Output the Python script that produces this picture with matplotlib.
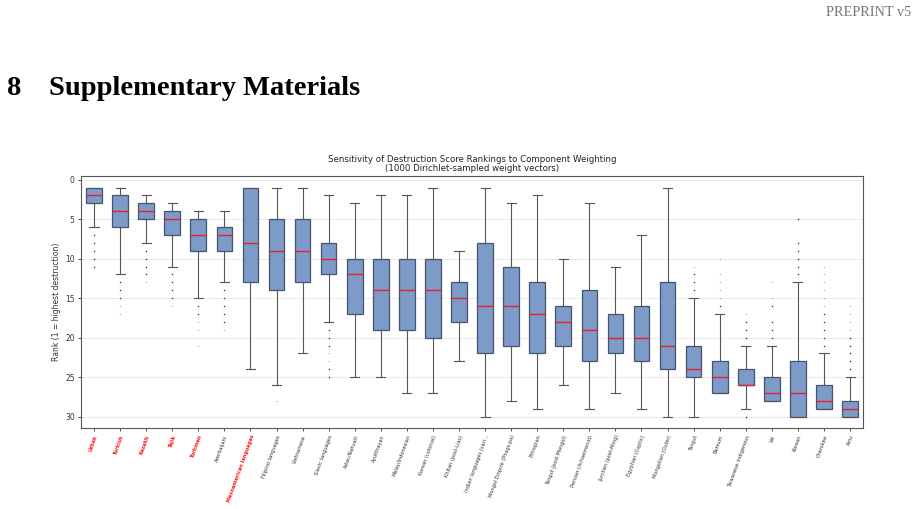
import matplotlib
matplotlib.use("Agg")
import matplotlib.pyplot as plt
import numpy as np

labels = ["Uzbek", "Turkish", "Kazakh", "Tajik", "Turkmen", "Azerbaijani",
          "Mesoamerican languages", "Filipino languages", "Vietnamese", "Slavic languages",
          "Aztec/Nahuatl", "Ayutthayan", "Malay/Indonesian", "Korean (colonial)",
          "Khitan (post-Liao)", "Indian languages (vari...", "Mongol Empire (Phags-pa)",
          "Ethiopian", "Tangut (post-Mongol)", "Persian (Achaemenid)", "Jurchen (post-Ming)",
          "Egyptian (Coptic)", "Mongolian (Outer)", "Tangut", "Bamum",
          "Taiwanese indigenous", "Vai", "Korean", "Cherokee", "Ainu"]
highlight = ["Uzbek", "Turkish", "Kazakh", "Tajik", "Turkmen", "Mesoamerican languages"]

med = [2, 4, 4, 5, 7, 7, 8, 9, 9, 10, 12, 14, 14, 14, 15, 16, 16, 17, 18, 19,
       20, 20, 21, 24, 25, 26, 27, 27, 28, 29]
q1 = [1, 2, 3, 4, 5, 6, 1, 5, 5, 8, 10, 10, 10, 10, 13, 8, 11, 13, 16, 14,
      17, 16, 13, 21, 23, 24, 25, 23, 26, 28]
q3 = [3, 6, 5, 7, 9, 9, 13, 14, 13, 12, 17, 19, 19, 20, 18, 22, 21, 22, 21, 23,
      22, 23, 24, 25, 27, 26, 28, 30, 29, 30]
whis_top = [1, 1, 2, 3, 4, 4, 1, 1, 1, 2, 3, 2, 2, 1, 9, 1, 3, 2, 10, 3,
            11, 7, 1, 15, 17, 21, 21, 13, 22, 25]
whis_bot = [6, 12, 8, 11, 15, 13, 24, 26, 22, 18, 25, 25, 27, 27, 23, 30, 28, 29, 26, 29,
            27, 29, 30, 30, 27, 29, 28, 30, 29, 30]
# frequent (dark) outliers
fliers_dark = [[7, 8, 9, 10, 11], [13, 14, 15], [9, 10, 11, 12], [12, 13, 14, 15],
               [16, 17], [14, 15, 16, 17, 18], [], [], [], [19, 20, 21, 24, 25],
               [], [], [], [], [], [], [], [], [], [],
               [], [], [], [12, 13, 14], [16], [18, 19, 20, 30], [16, 18, 19, 20],
               [5, 8, 9, 10, 11, 12], [17, 18, 19, 20, 21], [20, 21, 22, 23, 24]]
# rare (light) outliers
fliers_light = [[], [16, 17], [13], [16], [18, 19, 21], [19], [], [28], [], [22, 23],
                [], [], [], [], [], [], [], [], [], [],
                [], [], [], [11], [10, 12, 13, 14, 15], [17], [13, 15],
                [], [11, 12, 13, 14, 15, 16], [16, 17, 18, 19]]

fig = plt.figure(figsize=(9.18, 5.09), dpi=100)
fig.text(0.993, 0.975, "PREPRINT v5", ha="right", va="center",
         fontfamily="Liberation Serif", fontsize=10.3, color="#777777")
fig.text(0.008, 0.827, "8", ha="left", va="center",
         fontfamily="Liberation Serif", fontsize=20.5, fontweight="bold", color="black")
fig.text(0.053, 0.827, "Supplementary Materials", ha="left", va="center",
         fontfamily="Liberation Serif", fontsize=20.5, fontweight="bold", color="black")

ax = fig.add_axes([0.0882, 0.159, 0.852, 0.495])
stats = []
for i, lab in enumerate(labels):
    stats.append(dict(label=lab, med=med[i], q1=q1[i], q3=q3[i],
                      whislo=whis_top[i], whishi=whis_bot[i], fliers=fliers_dark[i]))
pos = np.arange(1, len(labels) + 1)
ax.bxp(stats, positions=pos, widths=0.6, capwidths=0.35, patch_artist=True,
       showfliers=True,
       boxprops=dict(facecolor="#7d9bc8", edgecolor="#45536f", linewidth=0.9),
       medianprops=dict(color="#e8202a", linewidth=1.0),
       whiskerprops=dict(color="#555555", linewidth=0.8),
       capprops=dict(color="#555555", linewidth=0.8),
       flierprops=dict(marker="o", markersize=1.1, markerfacecolor="#222222",
                       markeredgecolor="none", alpha=0.9))
for i, fl in enumerate(fliers_light):
    if fl:
        ax.plot(np.full(len(fl), pos[i]), fl, linestyle="none", marker="o",
                markersize=1.1, markerfacecolor="#222222", markeredgecolor="none", alpha=0.3)

ax.set_xlim(0.5, len(labels) + 0.5)
ax.set_ylim(31.45, -0.45)
ax.set_yticks([0, 5, 10, 15, 20, 25, 30])
ax.yaxis.grid(True, color="#e6e6e6", linewidth=0.6)
ax.set_axisbelow(True)
ax.tick_params(axis="y", labelsize=5.5, length=2.5, width=0.6, pad=2, colors="#333333")
ax.tick_params(axis="x", length=2.5, width=0.6, pad=2, colors="#333333")
ax.set_xticks(pos)
ax.set_xticklabels(labels, rotation=70, ha="right", rotation_mode="anchor", fontsize=3.6)
for t in ax.get_xticklabels():
    if t.get_text() in highlight:
        t.set_color("#ff1a1a")
        t.set_fontweight("bold")
    else:
        t.set_color("#333333")
for s in ax.spines.values():
    s.set_color("#555555")
    s.set_linewidth(0.8)
ax.set_ylabel("Rank (1 = highest destruction)", fontsize=5.5, color="#333333", labelpad=3)
ax.set_title("Sensitivity of Destruction Score Rankings to Component Weighting\n"
             "(1000 Dirichlet-sampled weight vectors)", fontsize=6.2, color="#222222",
             pad=4, linespacing=1.0)

fig.savefig("out.png", dpi=100)
